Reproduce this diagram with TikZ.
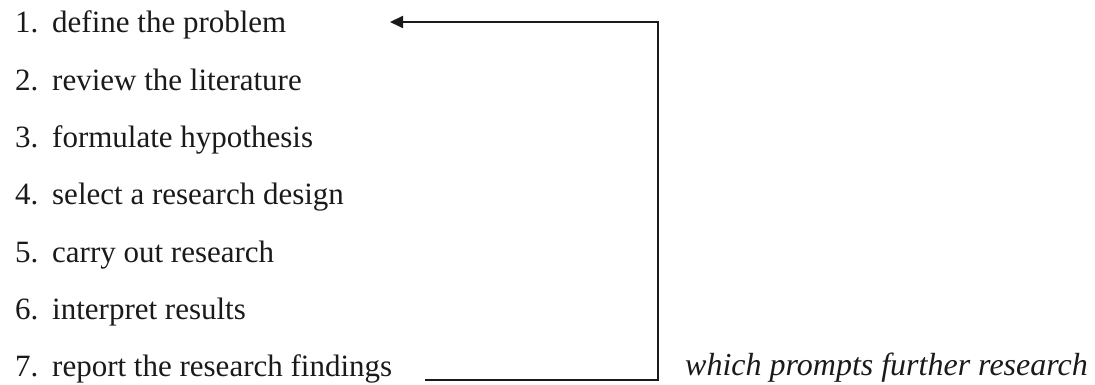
\documentclass[tikz,border=0pt]{standalone}
\usepackage{fontspec}
\setmainfont{Liberation Serif}
\usetikzlibrary{arrows.meta,positioning}
\definecolor{Ink}{HTML}{1A1A1A}
\tikzset{
  stage/.style={
    anchor=base west, inner sep=0pt, text=Ink,
    font=\fontsize{31}{36}\selectfont
  },
  remark/.style={
    anchor=base west, inner sep=0pt, text=Ink,
    font=\fontsize{32}{36}\selectfont\itshape
  },
  loopback/.style={-{Triangle[length=13pt,width=12pt]}, line width=1.8pt, draw=Ink}
}
\newcommand{\stepno}[1]{\makebox[37pt][l]{#1}}

\begin{document}
\begin{tikzpicture}[x=1pt,y=-1pt]
  \useasboundingbox (0,0) rectangle (1095,385);
  \node[stage] (s1) at (15,33)    {\stepno{1.}define the problem};
  \node[stage] (s2) at (15,90.3)  {\stepno{2.}review the literature};
  \node[stage] (s3) at (15,147.6) {\stepno{3.}formulate hypothesis};
  \node[stage] (s4) at (15,204.9) {\stepno{4.}select a research design};
  \node[stage] (s5) at (15,262.2) {\stepno{5.}carry out research};
  \node[stage] (s6) at (15,319.5) {\stepno{6.}interpret results};
  \node[stage] (s7) at (15,376.8) {\stepno{7.}report the research findings};
  \node[remark] (more) at (685,375) {which prompts further research};
  % feedback loop from step 7 back to step 1
  \coordinate (loopout) at (425,380);
  \coordinate (loopbot) at (658,380);
  \coordinate (looptop) at (658,22);
  \coordinate (loopin)  at (390,22);
  \draw[loopback] (loopout) -- (loopbot) -- (looptop) -- (loopin);
\end{tikzpicture}
\end{document}
